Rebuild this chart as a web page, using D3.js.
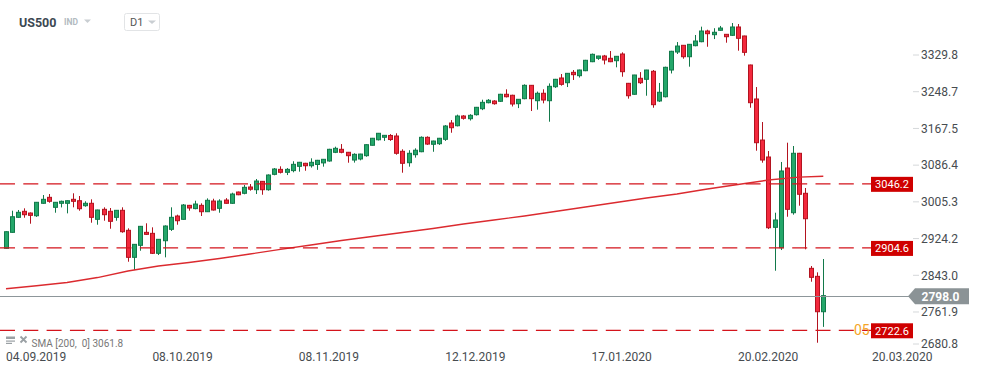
<!DOCTYPE html>
<html lang="en">
<head>
<meta charset="UTF-8">
<title>US500 D1</title>
<script src="https://d3js.org/d3.v7.min.js"></script>
<style>
    body {
        margin: 0;
        background: #fff;
        overflow: hidden;
        font-family: Roboto, 'Open Sans', sans-serif;
    }
    svg { display: block; }
</style>
</head>
<body>
<svg></svg>
<script>
    // daily candles, 04.09.2019 onwards
    const opens = [2902.6,2937.9,2971.1,2984.4,2980.6,2974.6,3002.1,3015.3,2993.2,3002.1,3002.1,3010.9,3007.8,2996.8,3002.1,2966.7,2988.8,2984.4,2971.1,2986.6,
        2942.4,2882.7,2909.2,2937.9,2935.7,2891.6,2919.4,2944.6,2974.0,2966.7,2997.6,2990.4,2997.6,2983.5,3007.1,2991.0,3009.3,3002.1,3027.0,3024.2,
        3038.1,3032.1,3050.6,3032.1,3066.1,3077.1,3070.6,3074.3,3083.8,3090.5,3085.1,3087.9,3091.4,3095.6,3114.8,3121.4,3114.8,3097.7,3100.0,3107.3,
        3130.3,3142.5,3148.0,3152.0,3150.8,3117.0,3091.8,3109.5,3116.1,3147.9,3132.5,3133.8,3143.5,3179.5,3173.5,3195.0,3189.0,3197.9,3211.1,3224.4,
        3228.1,3227.5,3243.0,3240.8,3222.2,3233.3,3262.8,3228.8,3245.2,3228.8,3259.7,3279.0,3268.6,3291.5,3284.1,3295.1,3315.0,3322.5,3327.6,3322.5,
        3317.2,3332.0,3267.2,3243.0,3278.3,3276.1,3293.8,3228.2,3237.6,3296.6,3336.4,3351.2,3326.0,3350.4,3359.2,3382.8,3374.7,3384.4,3375.5,3373.3,
        3391.7,3371.8,3307.7,3232.6,3141.9,3104.4,2949.0,2903.9,3080.1,2981.3,3112.6,3024.2,2858.4,2840.7,2762.5];
    const highs = [2940.0,2985.7,2987.3,2991.0,2982.0,3005.0,3020.4,3022.6,3005.0,3008.0,3008.5,3024.2,3018.2,3006.5,3010.9,2988.0,2993.2,2991.7,2987.0,2993.2,
        2946.8,2912.0,2952.0,2957.9,2949.0,2923.0,2953.4,2993.2,2977.0,3000.5,2998.5,3007.8,3002.0,3013.0,3012.2,3011.0,3013.5,3025.5,3028.0,3042.5,
        3044.7,3055.8,3051.3,3066.0,3080.0,3083.8,3080.0,3095.0,3093.5,3091.5,3101.5,3098.0,3100.0,3122.5,3127.2,3133.0,3115.5,3112.6,3111.5,3132.5,
        3146.5,3157.5,3153.0,3155.0,3156.8,3121.4,3119.4,3123.6,3150.0,3150.0,3140.5,3146.5,3175.0,3186.0,3198.0,3197.0,3199.0,3215.0,3231.0,3232.4,
        3230.0,3244.0,3254.0,3242.0,3232.5,3265.0,3263.5,3249.0,3254.0,3267.0,3277.0,3287.8,3290.0,3296.6,3297.5,3319.0,3333.0,3328.0,3330.0,3338.6,
        3327.5,3335.7,3268.0,3286.0,3292.0,3297.0,3296.6,3268.0,3304.0,3339.0,3358.4,3351.5,3354.0,3374.0,3392.4,3385.7,3389.0,3394.0,3376.0,3400.5,
        3398.3,3372.5,3308.5,3259.0,3181.7,3117.6,2981.3,3093.4,3136.0,3128.7,3113.5,3035.9,2863.5,2849.5,2879.0];
    const lows = [2902.0,2937.0,2970.0,2970.2,2957.0,2972.0,3001.0,3003.4,2981.3,2993.0,2979.9,2993.2,2985.7,2994.5,2959.2,2954.8,2963.6,2945.9,2963.6,2937.0,
        2873.0,2854.6,2897.3,2932.0,2890.0,2887.8,2882.7,2941.0,2954.8,2966.0,2985.7,2988.8,2974.0,2983.0,2986.0,2981.3,3001.0,3001.0,3020.0,3022.0,
        3030.0,3022.6,3021.0,3030.0,3064.0,3068.0,3064.5,3070.6,3072.0,3074.0,3081.0,3076.0,3083.0,3094.0,3113.0,3112.6,3091.8,3092.0,3097.0,3105.0,
        3130.0,3141.0,3140.0,3140.0,3109.5,3069.7,3083.0,3103.0,3115.0,3131.0,3116.0,3131.0,3140.0,3158.0,3172.0,3187.0,3185.0,3196.0,3208.0,3223.0,
        3220.0,3226.0,3236.0,3216.0,3212.5,3232.0,3206.0,3209.0,3223.0,3182.4,3257.0,3262.0,3259.0,3274.6,3280.0,3294.0,3314.0,3319.0,3309.0,3314.0,
        3302.6,3281.8,3233.3,3242.0,3265.7,3239.8,3213.3,3226.0,3236.0,3289.0,3332.0,3321.6,3304.0,3349.0,3358.0,3348.0,3365.0,3383.5,3357.0,3372.0,
        3339.3,3328.3,3213.3,3118.3,3091.8,2945.2,2853.1,2898.8,2972.4,2977.0,2996.8,2900.4,2828.8,2694.0,2729.0];
    const closes = [2939.3,2972.4,2982.2,2976.9,2975.5,3004.3,3010.9,3006.5,3004.3,3006.5,3007.8,3006.5,2990.1,3002.1,2971.1,2987.3,2976.9,2962.3,2986.6,2939.3,
        2882.7,2911.4,2951.2,2933.5,2891.6,2922.5,2951.9,2971.1,2963.6,2998.3,2991.7,3000.5,2983.5,3008.7,2987.3,3007.1,3002.1,3022.6,3021.0,3037.4,
        3033.2,3051.3,3032.1,3064.6,3077.9,3070.6,3077.1,3088.2,3092.7,3085.1,3092.7,3097.1,3099.3,3121.4,3123.6,3114.8,3107.3,3110.3,3110.9,3131.6,
        3145.8,3156.8,3152.3,3143.0,3112.6,3090.5,3112.6,3119.4,3147.9,3133.0,3139.7,3145.8,3172.9,3169.1,3195.0,3190.0,3196.5,3214.2,3225.2,3229.7,
        3222.2,3243.0,3237.6,3221.5,3231.9,3262.8,3233.3,3245.2,3230.3,3260.6,3276.1,3265.0,3289.3,3286.3,3296.6,3318.1,3331.3,3327.6,3318.8,3315.0,
        3326.9,3292.9,3239.8,3285.6,3268.6,3296.6,3220.0,3247.4,3302.6,3338.0,3349.6,3326.0,3353.4,3360.7,3382.8,3376.9,3380.0,3389.4,3370.2,3391.7,
        3366.7,3335.7,3224.4,3136.0,3097.7,2948.1,2965.2,3073.5,2988.8,3112.6,3022.0,2968.0,2838.5,2762.5,2798.0];

    // SMA 200 read at every 5th candle
    const smaIndex = [0,5,10,15,20,25,30,35,40,45,50,55,60,65,70,75,80,85,90,95,100,105,110,115,120,125,130,134];
    const smaValues = [2813.3,2820.0,2827.0,2838.0,2852.4,2863.5,2871.3,2880.1,2890.0,2900.4,2909.9,2919.8,2928.7,2937.5,2946.4,2956.3,2965.2,2974.0,2984.0,2993.9,3003.8,3013.8,3022.6,3033.6,3043.6,3053.5,3060.0,3061.8];

    const yTicks = [3329.8, 3248.7, 3167.5, 3086.4, 3005.3, 2924.2, 2843.0, 2761.9, 2680.8];
    const xTickIndex = [0, 24, 48, 72, 96, 120, 142];
    const xTickLabels = ["04.09.2019", "08.10.2019", "08.11.2019", "12.12.2019", "17.01.2020", "20.02.2020", "20.03.2020"];

    const levels = [3046.2, 2904.6, 2722.6];
    const lastPrice = 2798.0;
    const smaLabel = "SMA [200,  0] 3061.8";

    const width = 981, height = 374;
    const svg = d3.select("svg").attr("width", width).attr("height", height);

    const x = d3.scaleLinear().domain([0, 134]).range([6, 823.3]);
    const y = d3.scaleLinear().domain([2680.8, 3329.8]).range([348.7, 55]);

    const candles = opens.map((o, i) => ({ i, o, h: highs[i], l: lows[i], c: closes[i] }));
    const up = { fill: "#24a76a", stroke: "#12794a" };
    const down = { fill: "#f3293d", stroke: "#b3131f" };

    // header
    svg.append("text").attr("x", 19).attr("y", 26.5)
        .attr("font-size", 12.5).attr("font-weight", "bold").attr("fill", "#3c4852").text("US500");
    svg.append("text").attr("x", 64).attr("y", 25.3)
        .attr("font-size", 8.5).attr("font-weight", "bold").attr("fill", "#b2bac0").text("IND");
    svg.append("path").attr("d", "M84,19.5 L91,19.5 L87.5,23 Z").attr("fill", "#c9ced2");
    svg.append("rect").attr("x", 124.5).attr("y", 13.5).attr("width", 35).attr("height", 17)
        .attr("rx", 2).attr("fill", "#fff").attr("stroke", "#e2e4e6");
    svg.append("text").attr("x", 130).attr("y", 26.3)
        .attr("font-size", 11).attr("fill", "#555").text("D1");
    svg.append("path").attr("d", "M148,20.5 L156,20.5 L152,24 Z").attr("fill", "#c9ced2");

    // candles
    const cg = svg.append("g");
    const cand = cg.selectAll("g").data(candles).enter().append("g");
    cand.append("line")
        .attr("x1", d => Math.round(x(d.i)) + 0.5).attr("x2", d => Math.round(x(d.i)) + 0.5)
        .attr("y1", d => y(d.h)).attr("y2", d => y(d.l))
        .attr("stroke", d => d.c >= d.o ? up.stroke : down.stroke).attr("stroke-width", 1);
    cand.append("rect")
        .attr("x", d => Math.round(x(d.i)) - 1.5)
        .attr("y", d => y(Math.max(d.o, d.c)))
        .attr("width", 4)
        .attr("height", d => Math.max(1, Math.abs(y(d.o) - y(d.c))))
        .attr("fill", d => d.c >= d.o ? up.fill : down.fill)
        .attr("stroke", d => d.c >= d.o ? up.stroke : down.stroke).attr("stroke-width", 1);

    // SMA
    const smaLine = d3.line().x(d => x(d[0])).y(d => y(d[1]));
    svg.append("path")
        .attr("d", smaLine(smaIndex.map((k, j) => [k, smaValues[j]])))
        .attr("fill", "none").attr("stroke", "#db2a2f").attr("stroke-width", 1.4);

    // horizontal levels
    levels.forEach(v => {
        svg.append("line").attr("x1", 0).attr("x2", 871).attr("y1", y(v) + 0.5).attr("y2", y(v) + 0.5)
            .attr("stroke", "#d4141c").attr("stroke-width", 1.3).attr("stroke-dasharray", "15,8.3");
    });

    // current price line
    svg.append("line").attr("x1", 0).attr("x2", 910).attr("y1", Math.round(y(lastPrice)) + 0.5).attr("y2", Math.round(y(lastPrice)) + 0.5)
        .attr("stroke", "#8d969a").attr("stroke-width", 1);

    svg.append("text").attr("x", 854).attr("y", 335)
        .attr("font-size", 14).attr("fill", "#f5a425").text("05");

    // level labels
    levels.forEach(v => {
        const cy = y(v) + 1;
        svg.append("rect").attr("x", 871).attr("y", cy - 7.5).attr("width", 42).attr("height", 15).attr("fill", "#cf0000");
        svg.append("text").attr("x", 892).attr("y", cy + 4).attr("text-anchor", "middle")
            .attr("font-size", 11).attr("fill", "#fff").text(v.toFixed(1));
    });

    // right axis
    const ya = svg.append("g");
    yTicks.forEach(v => {
        const ty = Math.min(y(v), 344);
        ya.append("line").attr("x1", 913).attr("x2", 919).attr("y1", ty).attr("y2", ty)
            .attr("stroke", "#d5d8da").attr("stroke-width", 1);
        ya.append("text").attr("x", 921).attr("y", ty + 4.3)
            .attr("font-size", 12).attr("fill", "#474c50").text(v.toFixed(1));
    });

    // price tag
    const py = y(lastPrice) + 0.5;
    svg.append("path")
        .attr("d", `M908,${py} L915,${py - 8} L969,${py - 8} L969,${py + 8} L915,${py + 8} Z`)
        .attr("fill", "#8b9396");
    svg.append("text").attr("x", 921.5).attr("y", py + 4.5)
        .attr("font-size", 12).attr("font-weight", "bold").attr("fill", "#fff").text(lastPrice.toFixed(1));

    // bottom axis
    xTickIndex.forEach((k, j) => {
        svg.append("text").attr("x", x(k)).attr("y", 360.5)
            .attr("font-size", 12).attr("fill", "#474c50").text(xTickLabels[j]);
    });

    // SMA legend
    const lg = svg.append("g").attr("fill", "#9aa0a4");
    lg.append("rect").attr("x", 6).attr("y", 336.5).attr("width", 9).attr("height", 2.5);
    lg.append("rect").attr("x", 6).attr("y", 340.5).attr("width", 9).attr("height", 1.2);
    lg.append("rect").attr("x", 6).attr("y", 342.8).attr("width", 6).attr("height", 1.2);
    lg.append("path").attr("d", "M20.5,336.5 L26.5,342.5 M26.5,336.5 L20.5,342.5")
        .attr("stroke", "#9aa0a4").attr("stroke-width", 1.8);
    svg.append("text").attr("x", 31.5).attr("y", 346.5)
        .attr("font-size", 10).attr("fill", "#777").style("white-space", "pre").text(smaLabel);
</script>
</body>
</html>
